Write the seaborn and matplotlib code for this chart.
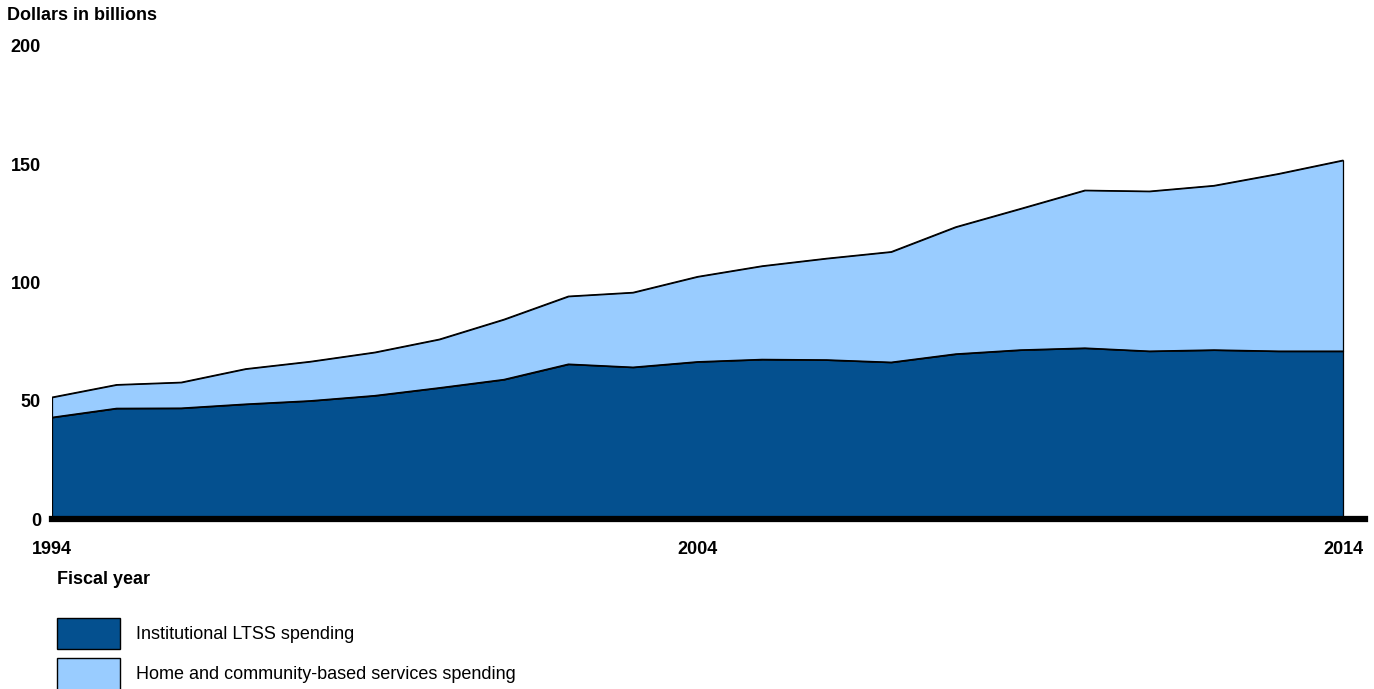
import numpy as np
import pandas as pd
import matplotlib
matplotlib.use("Agg")
import matplotlib.pyplot as plt
import seaborn as sns
from matplotlib.patches import Patch

years = list(range(1994, 2015))
institutional = [43.0, 46.8, 46.9, 48.6, 50.0, 52.2, 55.5, 59.0, 65.5, 64.2, 66.5,
                 67.5, 67.3, 66.3, 69.8, 71.5, 72.3, 71.0, 71.5, 71.0, 71.0]
hcbs = [8.5, 10.0, 10.9, 14.9, 16.6, 18.3, 20.5, 25.4, 28.7, 31.6, 36.0,
        39.5, 42.9, 46.7, 53.7, 59.7, 66.7, 67.6, 69.5, 75.0, 80.7]
series_names = ["Institutional LTSS spending", "Home and community-based services spending"]
xtick_labels = ["1994", "2004", "2014"]
ytick_values = [0, 50, 100, 150, 200]

dark = "#04508F"
light = "#99CCFF"

sns.set_theme(style="white")
plt.rcParams["font.family"] = ["Liberation Sans", "DejaVu Sans"]
plt.rcParams["text.color"] = "black"
plt.rcParams["xtick.color"] = "black"
plt.rcParams["ytick.color"] = "black"

df = pd.DataFrame({"year": years, "inst": institutional, "hcbs": hcbs})
df["total"] = df["inst"] + df["hcbs"]

fig = plt.figure(figsize=(13.74, 6.89), dpi=100)
ax = fig.add_axes([52 / 1374, 1 - 519 / 689, (1365 - 52) / 1374, (519 - 46) / 689])

ax.fill_between(df["year"], 0, df["inst"], facecolor=dark, edgecolor="black", linewidth=0.9, zorder=2)
ax.fill_between(df["year"], df["inst"], df["total"], facecolor=light, edgecolor="black", linewidth=0.9, zorder=2)
sns.lineplot(data=df, x="year", y="inst", ax=ax, color="black", linewidth=0.9, zorder=3)
sns.lineplot(data=df, x="year", y="total", ax=ax, color="black", linewidth=0.9, zorder=3)

ax.set_xlim(1994, 2014 + 22 / 64.55)
ax.set_ylim(0, 200)
for s in ["top", "right", "left"]:
    ax.spines[s].set_visible(False)
ax.spines["bottom"].set_linewidth(4.5)
ax.spines["bottom"].set_color("black")
ax.spines["bottom"].set_zorder(5)
ax.set_xlabel("")
ax.set_ylabel("")
ax.set_xticks([int(t) for t in xtick_labels])
ax.set_xticklabels(xtick_labels, fontsize=13, fontweight="bold", color="black")
ax.set_yticks(ytick_values)
ax.set_yticklabels([str(v) for v in ytick_values], fontsize=13, fontweight="bold", color="black")
ax.tick_params(axis="x", length=0, pad=16)
ax.tick_params(axis="y", length=0, pad=8)
ax.grid(False)

fig.text(7 / 1374, 1 - 15 / 689, "Dollars in billions", fontsize=13, fontweight="bold",
         ha="left", va="center", color="black")
fig.text(57 / 1374, 1 - 580 / 689, "Fiscal year", fontsize=13, fontweight="bold",
         ha="left", va="center", color="black")

handles = [Patch(facecolor=dark, edgecolor="black", linewidth=1.0),
           Patch(facecolor=light, edgecolor="black", linewidth=1.0)]
leg = fig.legend(handles, series_names, loc="upper left",
                 bbox_to_anchor=(57 / 1374, 1 - 618 / 689), frameon=False,
                 fontsize=13, handlelength=3.5, handleheight=2.3, labelspacing=0.48,
                 handletextpad=0.85, borderpad=0, borderaxespad=0)
for t in leg.get_texts():
    t.set_color("black")

fig.savefig("out.png", dpi=100)
